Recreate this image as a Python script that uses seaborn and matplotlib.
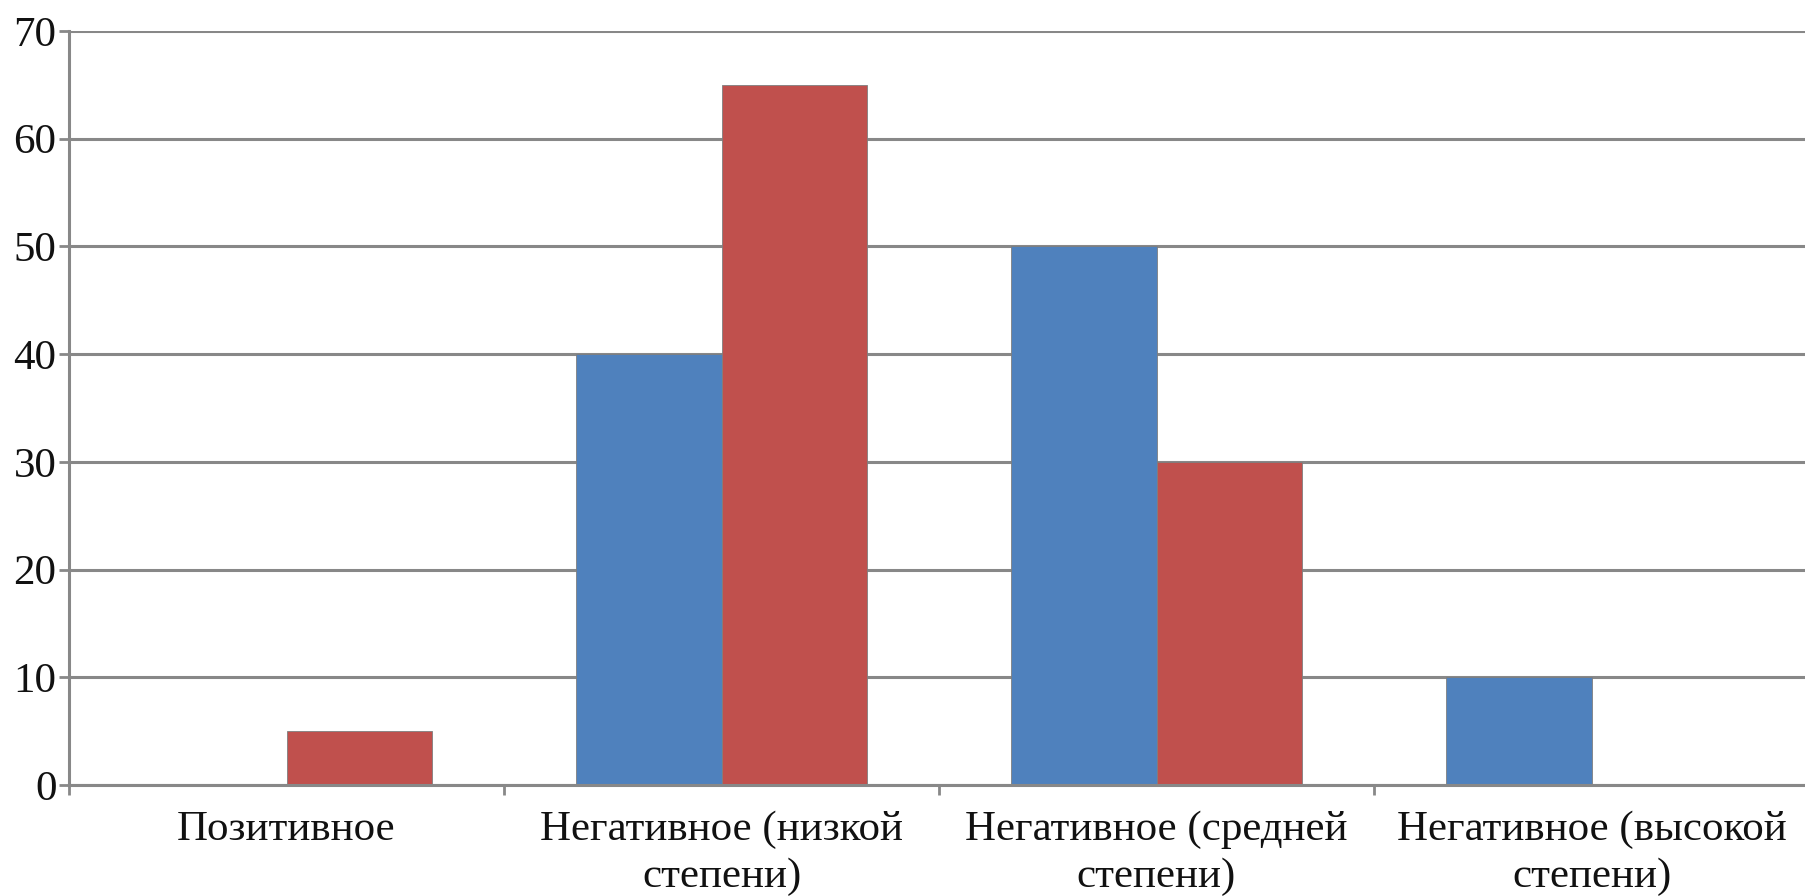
import matplotlib
matplotlib.use("Agg")
import matplotlib.pyplot as plt
import seaborn as sns
import pandas as pd
from matplotlib.ticker import FixedLocator

categories = ["Позитивное", "Негативное (низкой\nстепени)",
              "Негативное (средней\nстепени)", "Негативное (высокой\nстепени)"]
series_names = ["Ряд 1", "Ряд 2"]
blue_values = [0, 40, 50, 10]
red_values = [5, 65, 30, 0]
y_ticks = [0, 10, 20, 30, 40, 50, 60, 70]

sns.set_theme(style="white")
plt.rcParams['font.family'] = ['Liberation Serif', 'DejaVu Serif']
plt.rcParams['text.color'] = '#111111'
plt.rcParams['xtick.color'] = '#111111'
plt.rcParams['ytick.color'] = '#111111'

df = pd.DataFrame({
    "cat": categories * 2,
    "series": [series_names[0]] * 4 + [series_names[1]] * 4,
    "value": blue_values + red_values,
})

fig = plt.figure(figsize=(18.05, 8.96), dpi=100)
ax = fig.add_axes([69/1805, 1 - 785/896, (1809 - 69)/1805, (785 - 31)/896])

sns.barplot(data=df, x="cat", y="value", hue="series", order=categories,
            palette=["#4F81BD", "#C0504D"], width=0.667, saturation=1,
            edgecolor="#7f7f7f", linewidth=0.6, legend=False, ax=ax)

ax.set_xlim(-0.5, 3.5)
ax.set_ylim(0, 70)
ax.set_yticks(y_ticks)
ax.yaxis.grid(True, color="#888888", linewidth=2.2)
ax.set_axisbelow(True)
ax.set_xlabel("")
ax.set_ylabel("")

for s in ["top", "right"]:
    ax.spines[s].set_visible(False)
for s in ["left", "bottom"]:
    ax.spines[s].set_color("#888888")
    ax.spines[s].set_linewidth(2.2)

ax.tick_params(axis="y", which="major", length=7, width=2, color="#888888",
               labelcolor="#111111", labelsize=31, pad=2, left=True)
ax.tick_params(axis="x", which="major", length=0, labelsize=31, pad=18,
               labelcolor="#111111")
ax.xaxis.set_minor_locator(FixedLocator([-0.5, 0.5, 1.5, 2.5, 3.5]))
ax.tick_params(axis="x", which="minor", length=7, width=2, color="#888888",
               bottom=True)
for lbl in ax.get_xticklabels():
    lbl.set_linespacing(1.3)
    lbl.set_ha("center")

fig.savefig("out.png", dpi=100)
